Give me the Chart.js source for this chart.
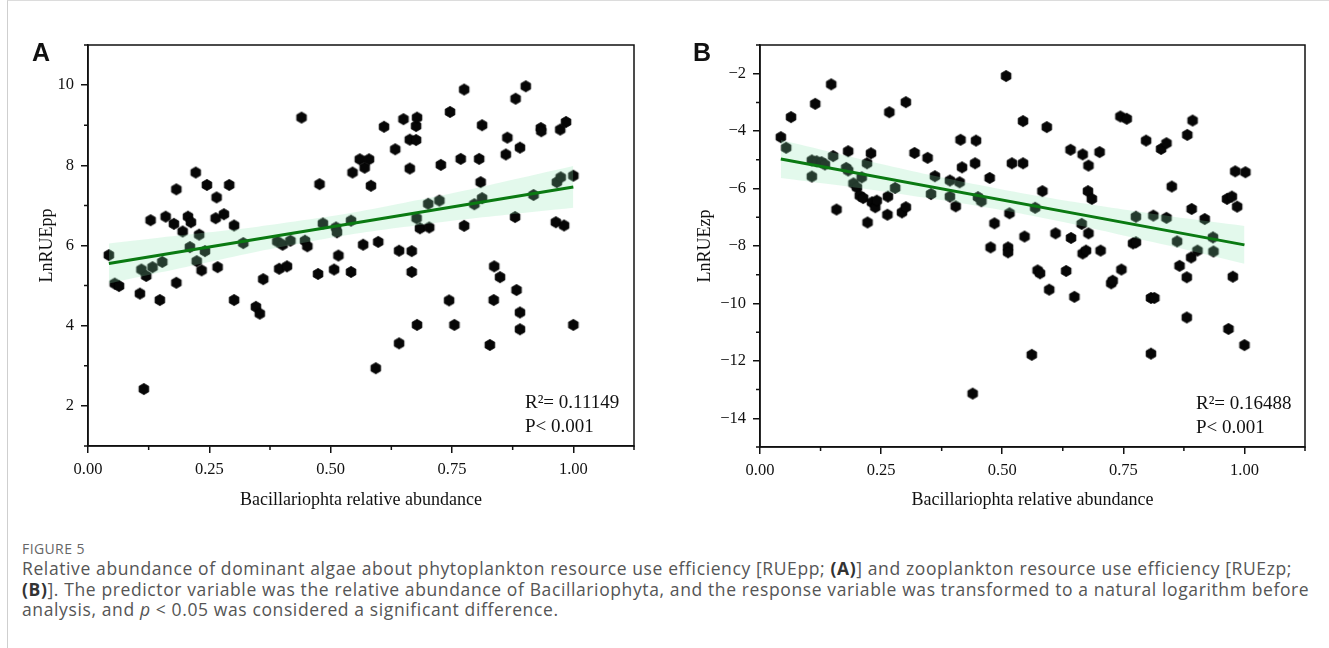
<!DOCTYPE html>
<html><head><meta charset="utf-8">
<script src="https://cdn.jsdelivr.net/npm/chart.js@4.4.1/dist/chart.umd.min.js"></script>
<style>
html,body{margin:0;padding:0;background:#fff;width:1329px;height:648px;overflow:hidden;}
body{position:relative;font-family:"Open Sans","Noto Sans",sans-serif;}
#frame{position:absolute;left:7px;top:0;width:1330px;height:660px;border-left:1px solid #cfcfcf;border-top:1px solid #dcdcdc;}
canvas{position:absolute;top:0;}
#cA{left:0;}
#cB{left:664px;}
.panel{position:absolute;font-family:"Liberation Sans",Arial,sans-serif;font-weight:bold;font-size:25px;line-height:30px;color:#111;}
.cap{position:absolute;left:22px;white-space:nowrap;color:#555;font-size:17.5px;line-height:20px;}
.cap b{color:#333;}
#fig{font-size:14px;color:#666;letter-spacing:0.4px;}
</style></head>
<body>
<div id="frame"></div>
<canvas id="cA" width="664" height="530"></canvas>
<canvas id="cB" width="665" height="530"></canvas>
<div class="panel" style="left:32px;top:37px;">A</div>
<div class="panel" style="left:693px;top:37px;">B</div>
<div class="cap" id="fig" style="top:539px;">FIGURE 5</div>
<div class="cap txt" id="l1" style="top:558px;">Relative abundance of dominant algae about phytoplankton resource use efficiency [RUEpp; <b>(A)</b>] and zooplankton resource use efficiency [RUEzp;</div>
<div class="cap txt" id="l2" style="top:579px;"><b>(B)</b>]. The predictor variable was the relative abundance of Bacillariophyta, and the response variable was transformed to a natural logarithm before</div>
<div class="cap txt" id="l3" style="top:599px;">analysis, and <i>p</i> &lt; 0.05 was considered a significant difference.</div>
<script>
// ---------- axes ----------
const xTicks = [0, 0.25, 0.5, 0.75, 1.0];
const xTickLabels = ['0.00', '0.25', '0.50', '0.75', '1.00'];
const xMinor = [0.125, 0.375, 0.625, 0.875, 1.125];
const yTicksA = [2, 4, 6, 8, 10];
const yTickLabelsA = ['2', '4', '6', '8', '10'];
const yMinorA = [1, 3, 5, 7, 9, 11];
const yTicksB = [-14, -12, -10, -8, -6, -4, -2];
const yTickLabelsB = ['\u221214', '\u221212', '\u221210', '\u22128', '\u22126', '\u22124', '\u22122'];
const yMinorB = [-15, -13, -11, -9, -7, -5, -3, -1];
const xTitle = 'Bacillariophta relative abundance';
const yTitleA = 'LnRUEpp';
const yTitleB = 'LnRUEzp';
const statsA = ['R\u00B2= 0.11149', 'P< 0.001'];
const statsB = ['R\u00B2= 0.16488', 'P< 0.001'];

// ---------- panel A data ----------
const xA = [0.043,0.055,0.064,0.107,0.110,0.115,0.120,0.129,0.133,0.148,
0.153,0.160,0.177,0.182,0.182,0.195,0.206,0.212,0.210,0.222,
0.224,0.229,0.234,0.241,0.245,0.263,0.265,0.267,0.280,0.291,
0.301,0.301,0.320,0.346,0.354,0.361,0.390,0.394,0.401,0.410,
0.417,0.440,0.447,0.452,0.474,0.477,0.484,0.507,0.511,0.513,
0.516,0.542,0.542,0.545,0.560,0.567,0.570,0.579,0.583,0.593,
0.598,0.610,0.633,0.641,0.641,0.650,0.663,0.663,0.667,0.667,
0.676,0.676,0.678,0.677,0.678,0.684,0.701,0.703,0.724,0.727,
0.744,0.746,0.755,0.768,0.775,0.775,0.796,0.806,0.809,0.812,
0.812,0.828,0.836,0.837,0.849,0.861,0.864,0.880,0.881,0.883,
0.890,0.890,0.890,0.902,0.918,0.933,0.934,0.964,0.966,0.973,
0.974,0.981,0.985,1.000,1.000];
const yA = [5.76,5.05,4.99,4.80,5.40,2.42,5.24,6.63,5.46,4.64,
5.59,6.72,6.54,7.40,5.07,6.35,6.72,6.58,5.96,7.82,
5.61,6.27,5.38,5.86,7.51,6.68,7.20,5.46,6.78,7.51,
6.50,4.64,6.06,4.47,4.30,5.16,6.10,5.42,6.02,5.48,
6.12,9.19,6.12,5.98,5.29,7.53,6.55,5.40,6.45,6.33,
5.75,6.62,5.34,7.82,8.15,6.02,7.94,8.15,7.49,2.94,
6.09,8.96,8.40,5.87,3.56,9.15,8.64,7.92,5.86,5.34,
8.98,8.63,9.19,6.68,4.02,6.43,7.04,6.45,7.12,8.01,
4.63,9.33,4.02,8.16,9.89,6.49,7.03,8.16,7.58,9.00,
7.18,3.52,4.64,5.48,5.21,8.27,8.69,6.71,9.66,4.89,
8.44,4.33,3.91,9.97,7.26,8.93,8.85,6.58,7.58,8.89,
7.70,6.50,9.08,7.74,4.02];
const fitXA = [0.043, 1.0];
const fitYA = [5.55, 7.46];
const bandXA = [0.043, 0.15, 0.25, 0.35, 0.45, 0.55, 0.65, 0.75, 0.85, 1.0];
const bandUpA = [6.05, 6.20, 6.33, 6.47, 6.64, 6.83, 7.06, 7.30, 7.57, 7.98];
const bandLoA = [5.05, 5.33, 5.59, 5.85, 6.08, 6.29, 6.46, 6.62, 6.75, 6.94];

// ---------- panel B data ----------
const xB = [0.043,0.054,0.064,0.107,0.107,0.114,0.117,0.127,0.134,0.147,
0.151,0.158,0.178,0.182,0.182,0.193,0.200,0.206,0.210,0.213,
0.221,0.222,0.229,0.231,0.238,0.241,0.263,0.264,0.267,0.279,
0.293,0.301,0.301,0.319,0.346,0.353,0.361,0.392,0.392,0.404,
0.412,0.414,0.417,0.439,0.444,0.446,0.450,0.457,0.474,0.476,
0.484,0.508,0.512,0.512,0.515,0.520,0.543,0.543,0.546,0.561,
0.568,0.573,0.578,0.583,0.592,0.597,0.610,0.632,0.641,0.642,
0.649,0.664,0.666,0.666,0.673,0.677,0.678,0.678,0.685,0.701,
0.703,0.725,0.728,0.744,0.746,0.757,0.770,0.776,0.776,0.797,
0.807,0.814,0.807,0.812,0.828,0.839,0.839,0.850,0.861,0.866,
0.881,0.881,0.882,0.890,0.891,0.893,0.903,0.918,0.935,0.936,
0.964,0.967,0.974,0.976,0.981,0.985,1.000,1.002];
const yB = [-4.21,-4.58,-3.51,-5.02,-5.58,-3.05,-5.05,-5.08,-5.16,-2.37,
-4.87,-6.73,-5.28,-4.70,-5.37,-5.82,-5.96,-6.25,-5.61,-6.33,
-5.12,-7.18,-4.77,-6.48,-6.65,-6.42,-6.91,-6.28,-3.34,-5.98,
-6.83,-6.65,-2.99,-4.76,-4.93,-6.19,-5.57,-5.72,-6.28,-6.62,
-5.78,-4.30,-5.26,-13.14,-5.12,-4.33,-6.30,-6.44,-5.63,-8.05,
-7.21,-2.08,-8.05,-8.22,-6.86,-5.12,-5.12,-3.65,-7.67,-11.79,
-6.67,-8.85,-8.95,-6.09,-3.86,-9.52,-7.56,-8.87,-4.65,-7.72,
-9.77,-7.23,-4.81,-8.26,-8.16,-6.09,-5.20,-7.56,-6.36,-4.73,
-8.16,-9.30,-9.21,-3.49,-8.82,-3.57,-7.91,-7.87,-6.98,-4.33,
-9.81,-9.81,-11.75,-6.94,-4.62,-4.42,-7.02,-5.93,-7.84,-8.69,
-9.09,-10.49,-4.13,-8.40,-6.71,-3.63,-8.16,-7.06,-7.70,-8.19,
-6.36,-10.89,-6.28,-9.07,-5.40,-6.63,-11.45,-5.43];
const fitXB = [0.043, 1.0];
const fitYB = [-4.97, -7.96];
const bandXB = [0.043, 0.15, 0.25, 0.35, 0.45, 0.55, 0.65, 0.75, 0.85, 1.0];
const bandUpB = [-4.31, -4.74, -5.14, -5.52, -5.87, -6.19, -6.47, -6.73, -6.97, -7.30];
const bandLoB = [-5.63, -5.86, -6.09, -6.34, -6.61, -6.91, -7.25, -7.63, -8.01, -8.62];

// ---------- caption fit (letter spacing so line 1 spans the reference width) ----------
(function () {
  const l1 = document.getElementById('l1');
  const target = 1270;
  const w = l1.getBoundingClientRect().width;
  const n = l1.textContent.length;
  const ls = Math.max(-0.5, Math.min(2, (target - w) / n));
  document.querySelectorAll('.txt').forEach(e => { e.style.letterSpacing = ls + 'px'; });
})();

// ---------- drawing ----------
const SERIF = '"Liberation Serif", "Times New Roman", serif';
const INK = '#111';

function hexagon(r) {
  const s = Math.ceil(2 * r + 2);
  const c = document.createElement('canvas');
  c.width = s; c.height = s;
  const g = c.getContext('2d');
  g.beginPath();
  for (let i = 0; i < 6; i++) {
    const a = -Math.PI / 2 + i * Math.PI / 3;
    const px = s / 2 + r * Math.cos(a), py = s / 2 + r * Math.sin(a);
    if (i === 0) g.moveTo(px, py); else g.lineTo(px, py);
  }
  g.closePath();
  g.fillStyle = '#060606';
  g.fill();
  g.lineWidth = 0.8;
  g.strokeStyle = '#000';
  g.stroke();
  return c;
}
const hex = hexagon(5.6);

function pairs(xs, ys) { return xs.map((v, i) => ({ x: v, y: ys[i] })); }

function deco(minorX, minorY, stats) {
  return {
    id: 'deco',
    afterDraw(chart) {
      const { ctx, chartArea: a, scales: { x, y } } = chart;
      ctx.save();
      ctx.strokeStyle = INK;
      ctx.lineWidth = 1.5;
      ctx.strokeRect(a.left, a.top, a.right - a.left, a.bottom - a.top);
      ctx.beginPath();
      minorX.forEach(v => { const px = x.getPixelForValue(v); ctx.moveTo(px, a.bottom); ctx.lineTo(px, a.bottom + 4); });
      minorY.forEach(v => { const py = y.getPixelForValue(v); ctx.moveTo(a.left, py); ctx.lineTo(a.left - 4, py); });
      ctx.stroke();
      ctx.fillStyle = INK;
      ctx.font = '19px ' + SERIF;
      ctx.textBaseline = 'middle';
      ctx.textAlign = 'left';
      ctx.fillText(stats[0], a.right - 109, a.bottom - 43);
      ctx.fillText(stats[1], a.right - 109, a.bottom - 19);
      ctx.restore();
    }
  };
}

function makeChart(id, cfg) {
  return new Chart(document.getElementById(id), {
    type: 'scatter',
    data: {
      datasets: [
        { type: 'line', data: pairs(cfg.fitX, cfg.fitY), borderColor: '#0a7a12', borderWidth: 3,
          pointRadius: 0, showLine: true, fill: false, order: 0 },
        { type: 'line', data: pairs(cfg.bandX, cfg.bandUp), borderColor: 'rgba(0,0,0,0)', borderWidth: 0,
          pointRadius: 0, showLine: true, tension: 0.3, fill: '+1', backgroundColor: 'rgba(139,231,176,0.24)', order: 1 },
        { type: 'line', data: pairs(cfg.bandX, cfg.bandLo), borderColor: 'rgba(0,0,0,0)', borderWidth: 0,
          pointRadius: 0, showLine: true, tension: 0.3, fill: false, order: 1 },
        { data: pairs(cfg.xs, cfg.ys), pointStyle: hex, pointRadius: 5.6, order: 2 }
      ]
    },
    options: {
      responsive: false, animation: false, devicePixelRatio: 1,
      layout: { padding: { top: 45, right: cfg.padRight, left: 0, bottom: 0 } },
      plugins: { legend: { display: false }, tooltip: { enabled: false } },
      scales: {
        x: {
          type: 'linear', min: 0, max: 1.125, position: 'bottom',
          afterBuildTicks: s => { s.ticks = xTicks.map(v => ({ value: v })); },
          afterFit: s => { s.height = cfg.xH; },
          ticks: { callback: (v, i) => xTickLabels[i], font: { family: SERIF, size: 16.5 }, color: INK,
                   padding: 7, maxRotation: 0, autoSkip: false },
          grid: { drawOnChartArea: false, tickLength: 7, color: INK, lineWidth: 1.5 },
          border: { display: true, color: INK, width: 1.5 },
          title: { display: true, text: xTitle, font: { family: SERIF, size: 18 }, color: INK,
                   padding: { top: 0, bottom: 19 } }
        },
        y: {
          type: 'linear', min: cfg.yMin, max: cfg.yMax, position: 'left',
          afterBuildTicks: s => { s.ticks = cfg.yTicks.map(v => ({ value: v })); },
          afterFit: s => { s.width = cfg.yW; },
          ticks: { callback: (v, i) => cfg.yLabels[i], font: { family: SERIF, size: 16.5 }, color: INK,
                   padding: 7, autoSkip: false },
          grid: { drawOnChartArea: false, tickLength: 7, color: INK, lineWidth: 1.5 },
          border: { display: true, color: INK, width: 1.5 },
          title: { display: true, text: cfg.yTitle, font: { family: SERIF, size: 18 }, color: INK,
                   padding: { top: cfg.yTitlePad, bottom: 0 } }
        }
      }
    },
    plugins: [deco(xMinor, cfg.yMinor, cfg.stats)]
  });
}

makeChart('cA', { xs: xA, ys: yA, fitX: fitXA, fitY: fitYA, bandX: bandXA, bandUp: bandUpA, bandLo: bandLoA,
  yMin: 1, yMax: 11, yTicks: yTicksA, yLabels: yTickLabelsA, yMinor: yMinorA, yTitle: yTitleA,
  stats: statsA, padRight: 30, xH: 84, yW: 88, yTitlePad: 36 });
makeChart('cB', { xs: xB, ys: yB, fitX: fitXB, fitY: fitYB, bandX: bandXB, bandUp: bandUpB, bandLo: bandLoB,
  yMin: -15, yMax: -1, yTicks: yTicksB, yLabels: yTickLabelsB, yMinor: yMinorB, yTitle: yTitleB,
  stats: statsB, padRight: 24, xH: 83, yW: 96, yTitlePad: 30 });
</script>
</body></html>
